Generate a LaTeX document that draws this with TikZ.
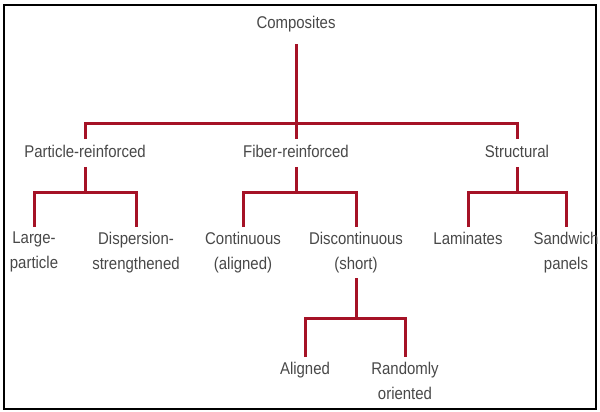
\documentclass[tikz,border=0pt]{standalone}
\usepackage{fontspec}
\setmainfont{Liberation Sans}[FakeStretch=0.88]
\usetikzlibrary{positioning}
\definecolor{treered}{RGB}{165,18,38}
\definecolor{labelgray}{RGB}{72,72,72}

\begin{document}
\begin{tikzpicture}[x=1pt, y=-1pt,
  lbl/.style={text=labelgray, font=\fontsize{17}{25}\selectfont, align=center, inner xsep=2pt, inner ysep=5pt},
  root/.style={lbl, inner ysep=12pt},
  mid/.style={lbl, text depth=3pt, inner ysep=6pt},
  leaf/.style={lbl, anchor=north},
  link/.style={draw=treered, line width=3pt, line join=miter}]
% Frame
\useasboundingbox (0,0) rectangle (600,412);
\draw[line width=2.5pt] (4,5) rectangle (596,409);

% Nodes
\node[root] (comp) at (296,24) {Composites};
\node[mid] (part) at (85,153) {Particle-reinforced};
\node[mid] (fiber) at (296,153) {Fiber-reinforced};
\node[mid] (struct) at (517,153) {Structural};
\node[leaf] (large) at (34,227) {Large-\\particle};
\node[leaf] (disp) at (136,227) {Dispersion-\\strengthened};
\node[leaf] (cont) at (243,227) {Continuous\\(aligned)};
\node[leaf] (disc) at (356,227) {Discontinuous\\(short)};
\node[leaf] (lam) at (468,227) {Laminates};
\node[leaf] (sand) at (566,227) {Sandwich\\panels};
\node[leaf] (algn) at (305,357) {Aligned};
\node[leaf] (rand) at (405,357) {Randomly\\oriented};

% Junctions
\coordinate (j0) at (296,123);
\coordinate (j1) at (85,192);
\coordinate (j2) at (296,192);
\coordinate (j3) at (517,192);
\coordinate (j4) at (356,318);

% Links
\draw[link] (comp.south) -- (j0);
\draw[link] (part.north) |- (j0) -| (struct.north);
\draw[link] (j0) -- (fiber.north);
\draw[link] (part.south) -- (j1);
\draw[link] (large.north) |- (j1) -| (disp.north);
\draw[link] (fiber.south) -- (j2);
\draw[link] (cont.north) |- (j2) -| (disc.north);
\draw[link] (struct.south) -- (j3);
\draw[link] (lam.north) |- (j3) -| (sand.north);
\draw[link] (disc.south) -- (j4);
\draw[link] (algn.north) |- (j4) -| (rand.north);
\end{tikzpicture}
\end{document}
